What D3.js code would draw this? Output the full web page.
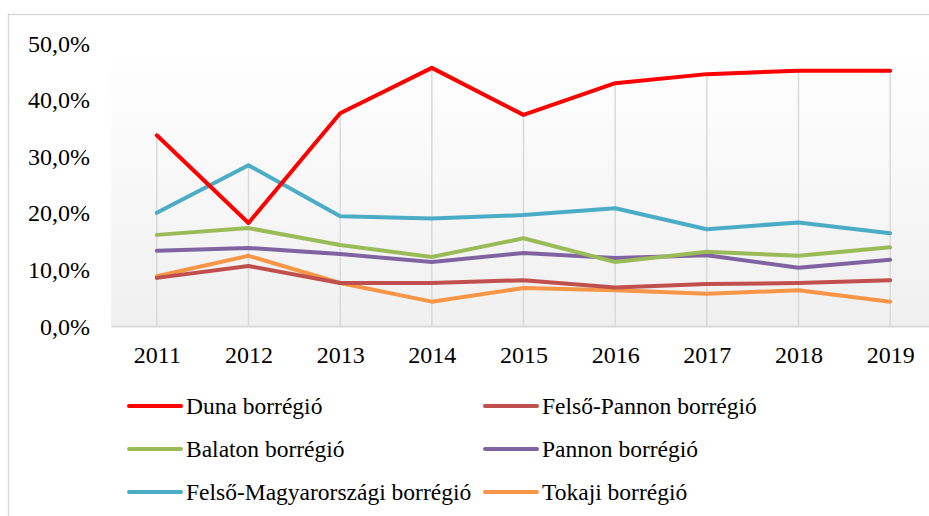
<!DOCTYPE html>
<html>
<head>
<meta charset="utf-8">
<script src="https://cdn.jsdelivr.net/npm/d3@7"></script>
<style>
  html, body { margin: 0; padding: 0; background: #fff; }
  svg { display: block; }
</style>
</head>
<body>
<svg id="chart" width="929" height="516"></svg>
<script>
const years = ["2011","2012","2013","2014","2015","2016","2017","2018","2019"];
const seriesNames = ["Duna borrégió","Felső-Pannon borrégió","Balaton borrégió","Pannon borrégió","Felső-Magyarországi borrégió","Tokaji borrégió"];
const duna      = [33.7, 18.2, 37.6, 45.6, 37.3, 42.9, 44.5, 45.1, 45.1];
const felsoPannon = [8.5, 10.6, 7.6, 7.6, 8.1, 6.8, 7.4, 7.6, 8.1];
const balaton   = [16.1, 17.3, 14.3, 12.2, 15.5, 11.3, 13.1, 12.4, 13.9];
const pannon    = [13.3, 13.8, 12.7, 11.3, 12.9, 12.0, 12.5, 10.3, 11.7];
const felsoMagyar = [20.0, 28.4, 19.4, 19.0, 19.6, 20.8, 17.1, 18.3, 16.4];
const tokaji    = [8.8, 12.4, 7.6, 4.3, 6.7, 6.3, 5.7, 6.3, 4.3];
const yTicks = [0, 10, 20, 30, 40, 50];
const colors = ["#FF0000","#C0504D","#9BBB59","#8064A2","#4BACC6","#F79646"];

const FONT = "Liberation Serif";
const seriesValues = [duna, felsoPannon, balaton, pannon, felsoMagyar, tokaji];
const series = seriesNames.map((name, i) => ({name, values: seriesValues[i], color: colors[i]}));
const drawOrder = [5, 1, 3, 2, 4, 0];

const svg = d3.select("#chart");
const plotLeft = 111, plotRight = 936, plotTop = 43, plotBottom = 326;

const x = d3.scalePoint().domain(years).range([plotLeft, plotRight]).padding(0.5);
const y = d3.scaleLinear().domain([0, 50]).range([plotBottom, plotTop]);

svg.append("rect").attr("x", 8.5).attr("y", 14.5).attr("width", 940).attr("height", 520)
  .attr("fill", "#fff").attr("stroke", "#d9d9d9").attr("stroke-width", 1.5);

const defs = svg.append("defs");
const grad = defs.append("linearGradient").attr("id", "bg").attr("x1", 0).attr("y1", 0).attr("x2", 0).attr("y2", 1);
grad.append("stop").attr("offset", "0%").attr("stop-color", "#ffffff");
grad.append("stop").attr("offset", "100%").attr("stop-color", "#f0f0f0");
svg.append("rect").attr("x", plotLeft).attr("y", plotTop).attr("width", plotRight - plotLeft)
  .attr("height", plotBottom - plotTop).attr("fill", "url(#bg)");

svg.append("g").selectAll("line").data(years).join("line")
  .attr("x1", d => x(d)).attr("x2", d => x(d))
  .attr("y1", (d, i) => y(d3.max(seriesValues, s => s[i])))
  .attr("y2", plotBottom)
  .attr("stroke", "#d9d9d9").attr("stroke-width", 1.5);

const yAxis = d3.axisLeft(y).tickValues(yTicks).tickSize(0).tickPadding(0)
  .tickFormat(d => d3.format(".1f")(d).replace(".", ",") + "%");
const yg = svg.append("g").attr("transform", "translate(90,0)").call(yAxis);
yg.attr("font-family", FONT).attr("font-size", 24);
yg.select(".domain").remove();
yg.selectAll("text").style("font-family", FONT).style("font-size", "24px").attr("fill", "#000").attr("dy", "0.34em");

const xAxis = d3.axisBottom(x).tickSize(0).tickPadding(0);
const xg = svg.append("g").attr("transform", `translate(0,${plotBottom})`).call(xAxis);
xg.attr("font-family", FONT).attr("font-size", 24);
xg.select(".domain").attr("stroke", "#d9d9d9").attr("stroke-width", 2);
xg.selectAll("text").style("font-family", FONT).style("font-size", "24px").attr("fill", "#000").attr("dy", null).attr("y", 37);

const line = d3.line().x((d, i) => x(years[i])).y(d => y(d));
svg.append("g").selectAll("path").data(drawOrder.map(i => series[i])).join("path")
  .attr("d", d => line(d.values))
  .attr("fill", "none").attr("stroke", d => d.color).attr("stroke-width", 4)
  .attr("stroke-linejoin", "round").attr("stroke-linecap", "round");

const legPos = [
  {x: 129, y: 406}, {x: 485, y: 406},
  {x: 129, y: 449}, {x: 485, y: 449},
  {x: 129, y: 492}, {x: 485, y: 492}
];
const leg = svg.append("g").selectAll("g").data(series).join("g")
  .attr("transform", (d, i) => `translate(${legPos[i].x},${legPos[i].y})`);
leg.append("line").attr("x1", 0).attr("x2", 52).attr("y1", 0).attr("y2", 0)
  .attr("stroke", d => d.color).attr("stroke-width", 4).attr("stroke-linecap", "round");
leg.append("text").attr("x", 57).attr("y", 0).attr("dy", "0.34em")
  .style("font-family", FONT).style("font-size", "23.5px").attr("fill", "#000").text(d => d.name);
</script>
</body>
</html>
